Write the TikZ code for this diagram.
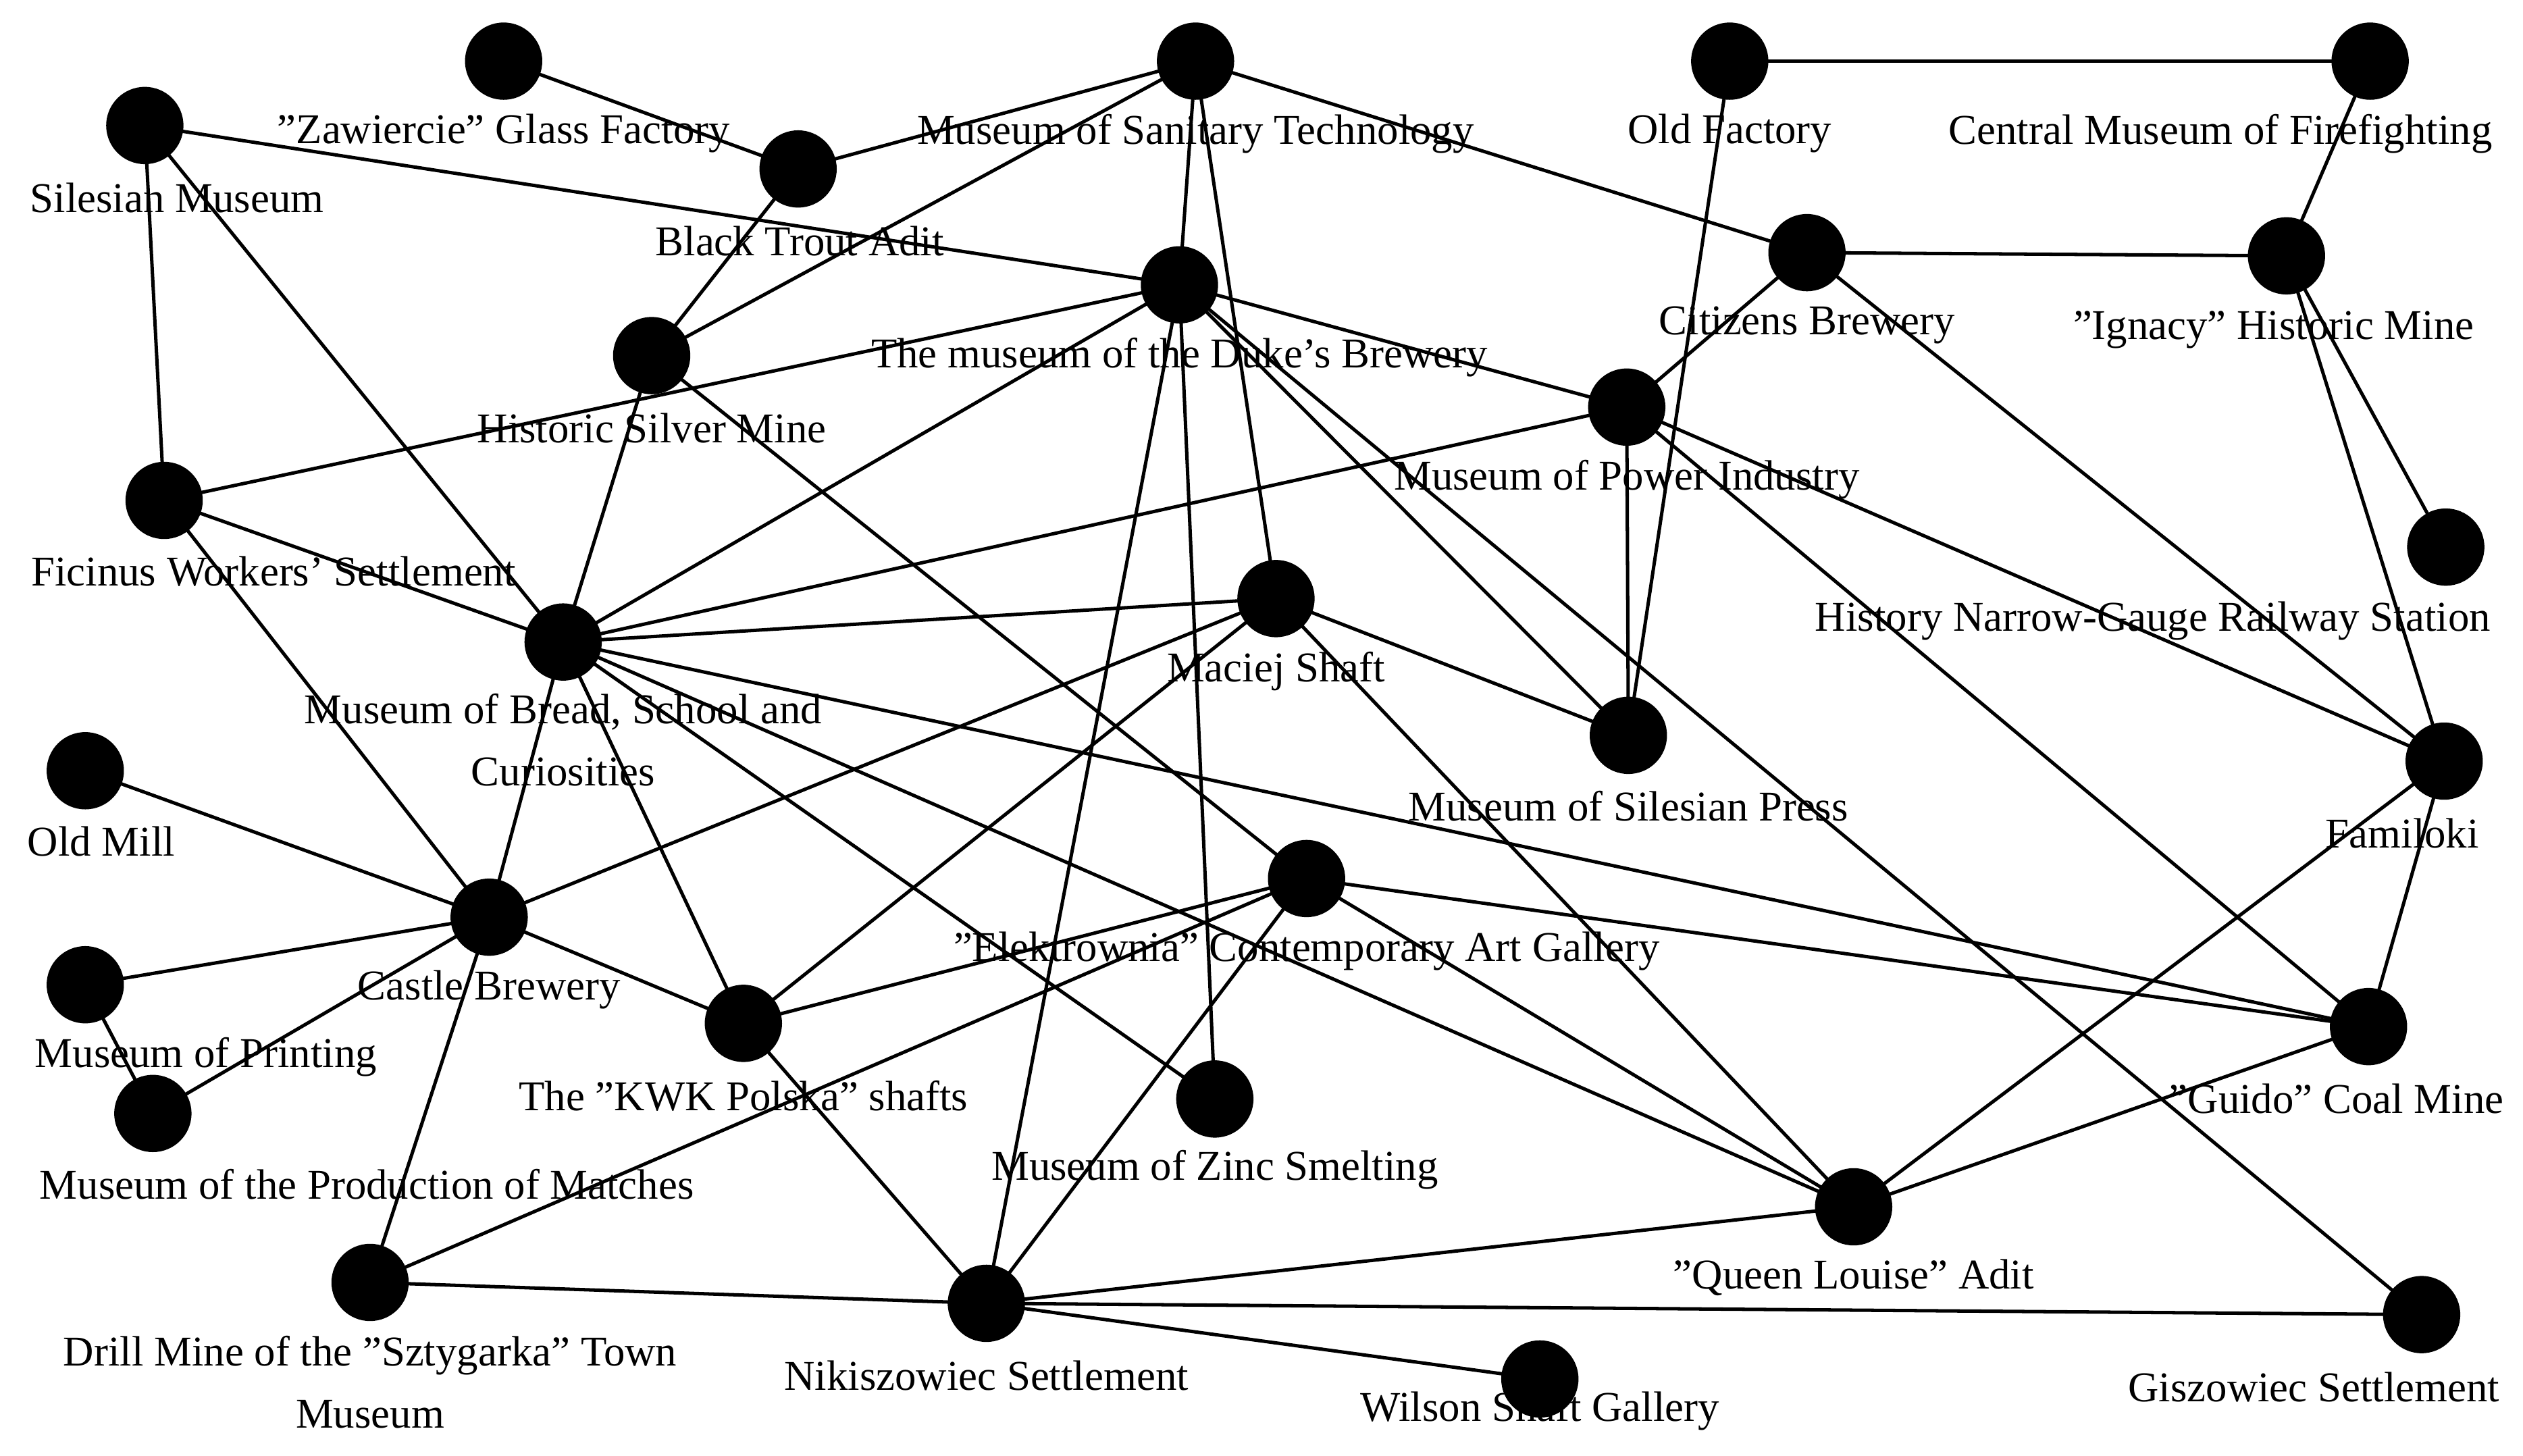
\documentclass[tikz,border=0pt]{standalone}
\usepackage{fontspec}
\setmainfont{Liberation Serif}
\begin{document}
\begin{tikzpicture}[x=0.01cm,y=-0.01cm,
  v/.style={circle,fill=black,minimum size=0.48cm,inner sep=0pt},
  lb/.style={font=\fontsize{7.5}{9}\selectfont,inner sep=0pt,align=center},
  e/.style={line width=0.6pt}]
\useasboundingbox[fill=white] (0,0) rectangle (1568,904.8);
\foreach \n/\x/\y in {sil/90/78,zaw/313/38,bta/496/105,san/743/38,duk/733/177,svm/405/221,
 ofa/1075/38,cmf/1473/38,cit/1123/157,ign/1421/159,pow/1011/253,fic/102/311,bre/350/399,
 mac/793/372,hng/1520/340,pre/1012/457,fam/1519/473,omi/53/479,cas/304/570,ele/812/546,
 kwk/462/636,pri/53/612,mat/95/692,zin/755/683,gui/1472/638,que/1152/750,dri/230/797,
 nik/613/810,wil/957/857,gis/1505/817}
  \coordinate (\n) at (\x,\y);
\foreach \a/\b in {zaw/bta,bta/san,bta/svm,sil/duk,sil/fic,sil/bre,san/cit,san/svm,san/duk,san/mac,
 duk/zin,duk/nik,duk/pow,duk/fic,duk/bre,duk/pre,duk/gis,ofa/cmf,ofa/pre,cit/ign,cit/pow,cit/fam,
 cmf/ign,ign/hng,ign/fam,pow/bre,pow/pre,pow/fam,pow/gui,fic/bre,fic/cas,svm/bre,svm/ele,
 bre/mac,bre/cas,bre/kwk,bre/zin,bre/que,bre/gui,mac/pre,mac/cas,mac/kwk,mac/que,fam/gui,fam/que,
 omi/cas,cas/pri,cas/mat,cas/kwk,cas/dri,pri/mat,ele/kwk,ele/gui,ele/que,ele/dri,ele/nik,
 kwk/nik,gui/que,que/nik,dri/nik,nik/wil,nik/gis}
  \draw[e] (\a) -- (\b);
\foreach \n in {sil,zaw,bta,san,duk,svm,ofa,cmf,cit,ign,pow,fic,bre,mac,hng,pre,fam,omi,cas,ele,
 kwk,pri,mat,zin,gui,que,dri,nik,wil,gis}
  \node[v] (n\n) at (\n) {};
\node[lb] (lsil) at (110,123) {Silesian Museum};
\node[lb] (lzaw) at (313,83) {"Zawiercie" Glass Factory};
\node[lb] (lbta) at (497,150) {Black Trout Adit};
\node[lb] (lsan) at (743,83) {Museum of Sanitary Technology};
\node[lb] (lduk) at (733,222) {The museum of the Duke's Brewery};
\node[lb] (lsvm) at (405,266) {Historic Silver Mine};
\node[lb] (lofa) at (1075,83) {Old Factory};
\node[lb] (lcmf) at (1380,83) {Central Museum of Firefighting};
\node[lb] (lcit) at (1123,202) {Citizens Brewery};
\node[lb] (lign) at (1413,205) {"Ignacy" Historic Mine};
\node[lb] (lpow) at (1011,298) {Museum of Power Industry};
\node[lb] (lfic) at (170,355) {Ficinus Workers' Settlement};
\node[lb] (lbre) at (350,460) {Museum of Bread, School and\\[2pt]Curiosities};
\node[lb] (lmac) at (793,417) {Maciej Shaft};
\node[lb] (lhng) at (1338,386) {History Narrow-Gauge Railway Station};
\node[lb] (lpre) at (1012,501) {Museum of Silesian Press};
\node[lb] (lfam) at (1493,518) {Familoki};
\node[lb] (lomi) at (63,523) {Old Mill};
\node[lb] (lcas) at (304,615) {Castle Brewery};
\node[lb] (lele) at (812,591) {"Elektrownia" Contemporary Art Gallery};
\node[lb] (lkwk) at (462,681) {The "KWK Polska" shafts};
\node[lb] (lpri) at (128,657) {Museum of Printing};
\node[lb] (lmat) at (228,736) {Museum of the Production of Matches};
\node[lb] (lzin) at (755,727) {Museum of Zinc Smelting};
\node[lb] (lgui) at (1452,683) {"Guido" Coal Mine};
\node[lb] (lque) at (1152,794) {"Queen Louise" Adit};
\node[lb] (ldri) at (230,859) {Drill Mine of the "Sztygarka" Town\\[2pt]Museum};
\node[lb] (lnik) at (613,855) {Nikiszowiec Settlement};
\node[lb] (lwil) at (957,877) {Wilson Shaft Gallery};
\node[lb] (lgis) at (1438,862) {Giszowiec Settlement};
\end{tikzpicture}
\end{document}
